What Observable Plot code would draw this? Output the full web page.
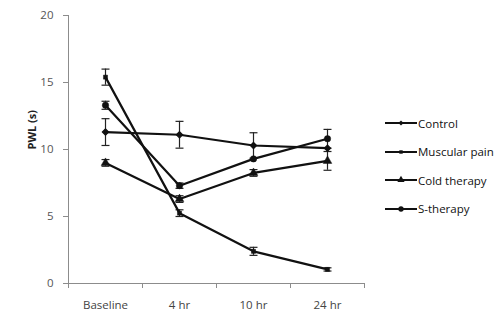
<!DOCTYPE html>
<html>
<head>
<meta charset="utf-8">
<script src="https://cdn.jsdelivr.net/npm/d3@7"></script>
<script src="https://cdn.jsdelivr.net/npm/@observablehq/plot@0.6"></script>
<style>
  html, body { margin: 0; padding: 0; background: #fff; }
  #wrap { position: relative; width: 502px; height: 321px; font-family: "Open Sans", sans-serif; }
  #legend { position: absolute; left: 385px; top: 109px; font-size: 11.5px; color: #111; }
  .item { display: flex; align-items: center; height: 28.5px; }
  .item svg { margin-right: 1px; }
</style>
</head>
<body>
<div id="wrap"><div id="legend"></div></div>
<script>
const timepoints = ["Baseline", "4 hr", "10 hr", "24 hr"];
const seriesNames = ["Control", "Muscular pain", "Cold therapy", "S-therapy"];
const controlMean = [11.3, 11.1, 10.3, 10.1];
const controlErr  = [1.0, 1.0, 0.95, 0.0];
const muscularMean = [15.4, 5.25, 2.4, 1.05];
const muscularErr  = [0.6, 0.25, 0.3, 0.12];
const coldMean = [9.0, 6.3, 8.25, 9.15];
const coldErr  = [0.25, 0.25, 0.25, 0.7];
const sMean = [13.3, 7.3, 9.3, 10.8];
const sErr  = [0.3, 0.2, 0.0, 0.7];
const yTicks = [0, 5, 10, 15, 20];

const symbols = ["diamond2", "square", "triangle", "circle"];
const sizes = [2.8, 2.3, 3.2, 3.2];
const means = [controlMean, muscularMean, coldMean, sMean];
const errs = [controlErr, muscularErr, coldErr, sErr];

const data = [];
seriesNames.forEach((s, si) => {
  timepoints.forEach((t, ti) => {
    data.push({series: s, si, t, x: ti + 0.5, y: means[si][ti], e: errs[si][ti]});
  });
});

const cap = {draw(ctx, size) { const w = Math.sqrt(size) / 2; ctx.moveTo(-w, 0); ctx.lineTo(w, 0); }};
const errData = data.filter(d => d.e > 0);

const chart = Plot.plot({
  width: 502,
  height: 321,
  marginLeft: 68,
  marginRight: 138,
  marginTop: 15,
  marginBottom: 38,
  style: {fontFamily: "Open Sans, sans-serif", fontSize: "11px", background: "transparent"},
  x: {domain: [0, 4], axis: null},
  y: {domain: [0, 20], axis: null},
  marks: [
    Plot.ruleX([0], {stroke: "#8c8c8c"}),
    Plot.ruleY([0], {stroke: "#8c8c8c"}),
    Plot.axisY({ticks: yTicks, tickSize: 5, tickPadding: 10, stroke: "#8c8c8c", fill: "#555", fontSize: 11.5, label: null}),
    Plot.axisX({ticks: [0, 1, 2, 3, 4], tickSize: 5, tickFormat: () => "", stroke: "#8c8c8c", label: null}),
    Plot.text(timepoints, {x: (d, i) => i + 0.5, y: 0, dy: 22, text: d => d, fill: "#444", fontSize: 11.5}),
    Plot.text(["PWL (s)"], {frameAnchor: "left", dx: -36, rotate: -90, fontWeight: "bold", fontSize: 11, fill: "#222"}),
    Plot.ruleX(errData, {x: "x", y1: d => d.y - d.e, y2: d => d.y + d.e, stroke: "#222", strokeWidth: 1.2}),
    Plot.dot(errData, {x: "x", y: d => d.y - d.e, symbol: cap, r: 4.5, stroke: "#222", strokeWidth: 1.2}),
    Plot.dot(errData, {x: "x", y: d => d.y + d.e, symbol: cap, r: 4.5, stroke: "#222", strokeWidth: 1.2}),
    Plot.line(data, {x: "x", y: "y", z: "series", stroke: "#111", strokeWidth: 2.2}),
    ...seriesNames.map((s, si) =>
      Plot.dot(data.filter(d => d.si === si), {x: "x", y: "y", symbol: symbols[si], r: sizes[si], fill: "#111", stroke: "#111", strokeWidth: si === 0 ? 1.2 : 0.5})
    )
  ]
});
document.getElementById("wrap").prepend(chart);

const legend = document.getElementById("legend");
const typeMap = {diamond2: d3.symbolDiamond2, square: d3.symbolSquare, triangle: d3.symbolTriangle, circle: d3.symbolCircle};
seriesNames.forEach((s, si) => {
  const item = document.createElement("div");
  item.className = "item";
  const area = Math.PI * sizes[si] * sizes[si] * 0.7;
  const path = d3.symbol(typeMap[symbols[si]], area)();
  item.innerHTML = `<svg width="32" height="10"><line x1="0" x2="32" y1="5" y2="5" stroke="#111" stroke-width="2"/><path d="${path}" transform="translate(16,5)" fill="#111"/></svg><span>${s}</span>`;
  legend.appendChild(item);
});
</script>
</body>
</html>
